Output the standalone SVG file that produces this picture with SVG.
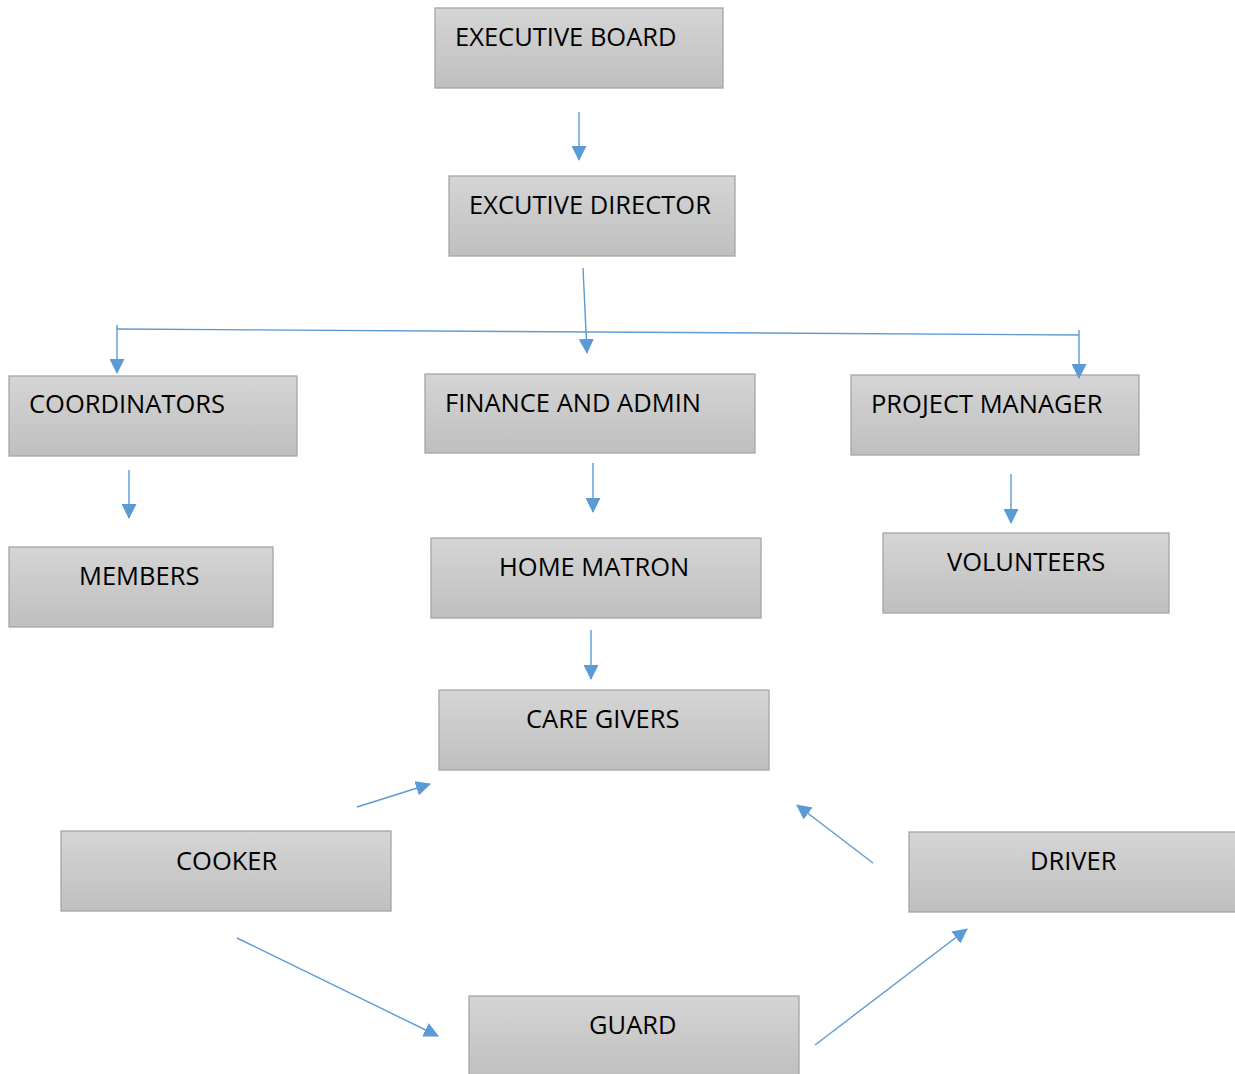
<svg xmlns="http://www.w3.org/2000/svg" width="1235" height="1074" viewBox="0 0 1235 1074">
<defs>
<linearGradient id="g" x1="0" y1="0" x2="0" y2="1">
<stop offset="0" stop-color="#d5d5d5"/>
<stop offset="1" stop-color="#bfbfbf"/>
</linearGradient>
<marker id="ah" markerWidth="15" markerHeight="15" viewBox="0 0 15 15" refX="14" refY="7.5" orient="auto" markerUnits="userSpaceOnUse">
<path d="M0,0 L15,7.5 L0,15 Z" fill="#5b9bd5"/>
</marker>
<style>
.box{fill:url(#g);stroke:#a5a5a5;stroke-width:1.3}
.t{font-family:"Open Sans","Liberation Sans",sans-serif;font-size:25.5px;fill:#000}
.c{stroke:#5b9bd5;stroke-width:1.4;fill:none}
.a{marker-end:url(#ah)}
</style>
</defs>
<rect width="1235" height="1074" fill="#fff"/>
<g id="executive-board"><rect class="box" x="435" y="8" width="288" height="80"/><text class="t" x="455" y="46">EXECUTIVE BOARD</text></g>
<g id="executive-director"><rect class="box" x="449" y="176" width="286" height="80"/><text class="t" x="469" y="214">EXCUTIVE DIRECTOR</text></g>
<g id="coordinators"><rect class="box" x="9" y="376" width="288" height="80"/><text class="t" x="29" y="413">COORDINATORS</text></g>
<g id="finance-admin"><rect class="box" x="425" y="374" width="330" height="79"/><text class="t" x="445" y="412">FINANCE AND ADMIN</text></g>
<g id="project-manager"><rect class="box" x="851" y="375" width="288" height="80"/><text class="t" x="871" y="413">PROJECT MANAGER</text></g>
<g id="members"><rect class="box" x="9" y="547" width="264" height="80"/><text class="t" x="79" y="585">MEMBERS</text></g>
<g id="home-matron"><rect class="box" x="431" y="538" width="330" height="80"/><text class="t" x="499" y="576">HOME MATRON</text></g>
<g id="volunteers"><rect class="box" x="883" y="533" width="286" height="80"/><text class="t" x="947" y="571">VOLUNTEERS</text></g>
<g id="care-givers"><rect class="box" x="439" y="690" width="330" height="80"/><text class="t" x="526" y="728">CARE GIVERS</text></g>
<g id="cooker"><rect class="box" x="61" y="831" width="330" height="80"/><text class="t" x="176" y="870">COOKER</text></g>
<g id="driver"><rect class="box" x="909" y="832" width="330" height="80"/><text class="t" x="1030" y="870">DRIVER</text></g>
<g id="guard"><rect class="box" x="469" y="996" width="330" height="82"/><text class="t" x="589" y="1034">GUARD</text></g>
<g id="connectors">
<line class="c a" x1="579" y1="112" x2="579" y2="160"/>
<line class="c a" x1="583" y1="268" x2="587" y2="353"/>
<line class="c" x1="117" y1="329" x2="1079" y2="335"/>
<line class="c a" x1="117" y1="325" x2="117" y2="373"/>
<line class="c a" x1="1079" y1="330" x2="1079" y2="378"/>
<line class="c a" x1="129" y1="470" x2="129" y2="518"/>
<line class="c a" x1="593" y1="463" x2="593" y2="512"/>
<line class="c a" x1="1011" y1="474" x2="1011" y2="523"/>
<line class="c a" x1="591" y1="630" x2="591" y2="679"/>
<line class="c a" x1="357" y1="807" x2="430" y2="784"/>
<line class="c a" x1="873" y1="863" x2="797" y2="805"/>
<line class="c a" x1="237" y1="938" x2="438" y2="1036"/>
<line class="c a" x1="815" y1="1045" x2="967" y2="929"/>
</g>
</svg>
